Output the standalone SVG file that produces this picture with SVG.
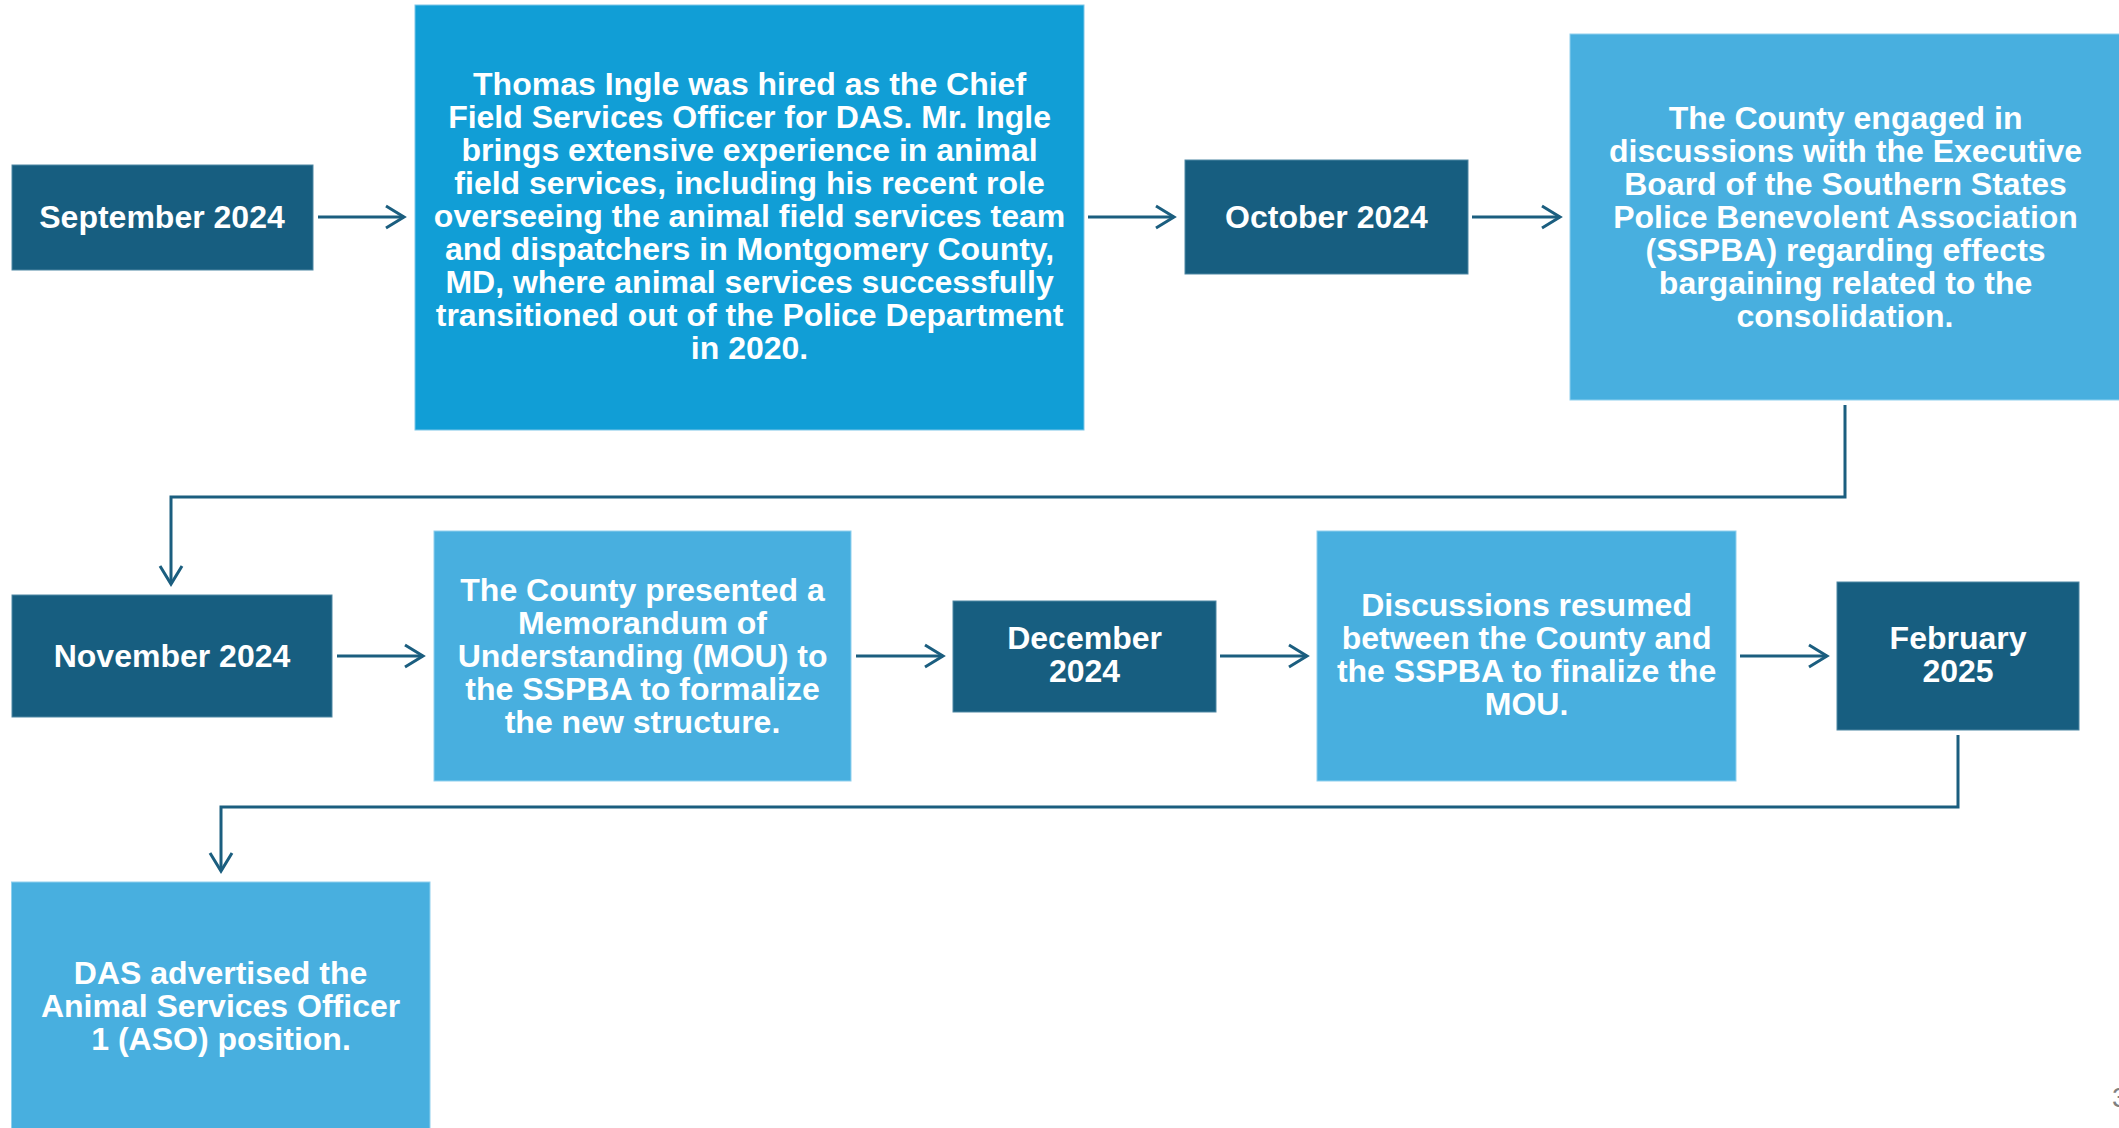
<svg xmlns="http://www.w3.org/2000/svg" width="2119" height="1128" viewBox="0 0 2119 1128">
<style>
.dark{fill:#175E80;stroke:#4f87a3;stroke-width:1}
.bright{fill:#119ED6;stroke:#7cc6e8;stroke-width:1}
.light{fill:#48AFDF;stroke:#8fd0ee;stroke-width:1}
.t{font-family:"Liberation Sans",Arial,sans-serif;font-weight:bold;font-size:32px;fill:#fff;text-anchor:middle}
.c{fill:none;stroke:#1B5E7F;stroke-width:3}
</style>
<defs>
<marker id="arr" markerUnits="userSpaceOnUse" markerWidth="40" markerHeight="40" refX="0" refY="0" orient="auto" overflow="visible">
<path d="M-18,-11 L0,0 L-18,11" fill="none" stroke="#1B5E7F" stroke-width="3"/>
</marker>
</defs>
<rect width="2119" height="1128" fill="#fff"/>
<g id="connectors">
<line class="c" x1="318" y1="217" x2="404" y2="217" marker-end="url(#arr)"/>
<line class="c" x1="1088" y1="217" x2="1174" y2="217" marker-end="url(#arr)"/>
<line class="c" x1="1472" y1="217" x2="1560" y2="217" marker-end="url(#arr)"/>
<path class="c" d="M1845,405 V497 H171 V584" marker-end="url(#arr)"/>
<line class="c" x1="337" y1="656" x2="423" y2="656" marker-end="url(#arr)"/>
<line class="c" x1="856" y1="656" x2="943" y2="656" marker-end="url(#arr)"/>
<line class="c" x1="1220" y1="656" x2="1307" y2="656" marker-end="url(#arr)"/>
<line class="c" x1="1740" y1="656" x2="1827" y2="656" marker-end="url(#arr)"/>
<path class="c" d="M1958,735 V807 H221 V871" marker-end="url(#arr)"/>
</g>
<g id="sep2024">
<rect class="dark" x="12" y="165" width="301" height="105"/>
<text class="t" x="162" y="227.5">September 2024</text>
</g>
<g id="ingle">
<rect class="bright" x="415" y="5" width="669" height="425"/>
<text class="t" x="754" y="95">
<tspan x="754" y="95">Thomas Ingle was hired as the Chief</tspan>
<tspan x="754" y="128">Field Services Officer for DAS. Mr. Ingle</tspan>
<tspan x="754" y="161">brings extensive experience in animal</tspan>
<tspan x="754" y="194">field services, including his recent role</tspan>
<tspan x="754" y="227">overseeing the animal field services team</tspan>
<tspan x="754" y="260">and dispatchers in Montgomery County,</tspan>
<tspan x="754" y="293">MD, where animal services successfully</tspan>
<tspan x="754" y="326">transitioned out of the Police Department</tspan>
<tspan x="749.5" y="359">in 2020.</tspan>
</text>
</g>
<g id="oct2024">
<rect class="dark" x="1185" y="160" width="283" height="114"/>
<text class="t" x="1326.5" y="227.5">October 2024</text>
</g>
<g id="sspba">
<rect class="light" x="1570" y="34" width="560" height="366"/>
<text class="t" x="1850" y="128.5">
<tspan x="1850" y="128.5">The County engaged in</tspan>
<tspan x="1850" y="161.5">discussions with the Executive</tspan>
<tspan x="1850" y="194.5">Board of the Southern States</tspan>
<tspan x="1850" y="227.5">Police Benevolent Association</tspan>
<tspan x="1850" y="260.5">(SSPBA) regarding effects</tspan>
<tspan x="1850" y="293.5">bargaining related to the</tspan>
<tspan x="1845" y="326.5">consolidation.</tspan>
</text>
</g>
<g id="nov2024">
<rect class="dark" x="12" y="595" width="320" height="122"/>
<text class="t" x="172" y="666.5">November 2024</text>
</g>
<g id="mou">
<rect class="light" x="434" y="531" width="417" height="250"/>
<text class="t" x="647" y="600.5">
<tspan x="647" y="600.5">The County presented a</tspan>
<tspan x="647" y="633.5">Memorandum of</tspan>
<tspan x="647" y="666.5">Understanding (MOU) to</tspan>
<tspan x="647" y="699.5">the SSPBA to formalize</tspan>
<tspan x="642.5" y="732.5">the new structure.</tspan>
</text>
</g>
<g id="dec2024">
<rect class="dark" x="953" y="601" width="263" height="111"/>
<text class="t" x="1089" y="649">
<tspan x="1089" y="649">December</tspan>
<tspan x="1084.5" y="682">2024</tspan>
</text>
</g>
<g id="resumed">
<rect class="light" x="1317" y="531" width="419" height="250"/>
<text class="t" x="1531" y="616">
<tspan x="1531" y="616">Discussions resumed</tspan>
<tspan x="1531" y="649">between the County and</tspan>
<tspan x="1531" y="682">the SSPBA to finalize the</tspan>
<tspan x="1526.5" y="715">MOU.</tspan>
</text>
</g>
<g id="feb2025">
<rect class="dark" x="1837" y="582" width="242" height="148"/>
<text class="t" x="1962.5" y="649">
<tspan x="1962.5" y="649">February</tspan>
<tspan x="1958" y="682">2025</tspan>
</text>
</g>
<g id="aso">
<rect class="light" x="11.5" y="882" width="418.5" height="260"/>
<text class="t" x="225" y="983.5">
<tspan x="225" y="983.5">DAS advertised the</tspan>
<tspan x="225" y="1016.5">Animal Services Officer</tspan>
<tspan x="221" y="1049.5">1 (ASO) position.</tspan>
</text>
</g>
<text x="2112" y="1107" font-family="Liberation Sans, Arial, sans-serif" font-size="28" fill="#7f7f7f">3</text>
</svg>
